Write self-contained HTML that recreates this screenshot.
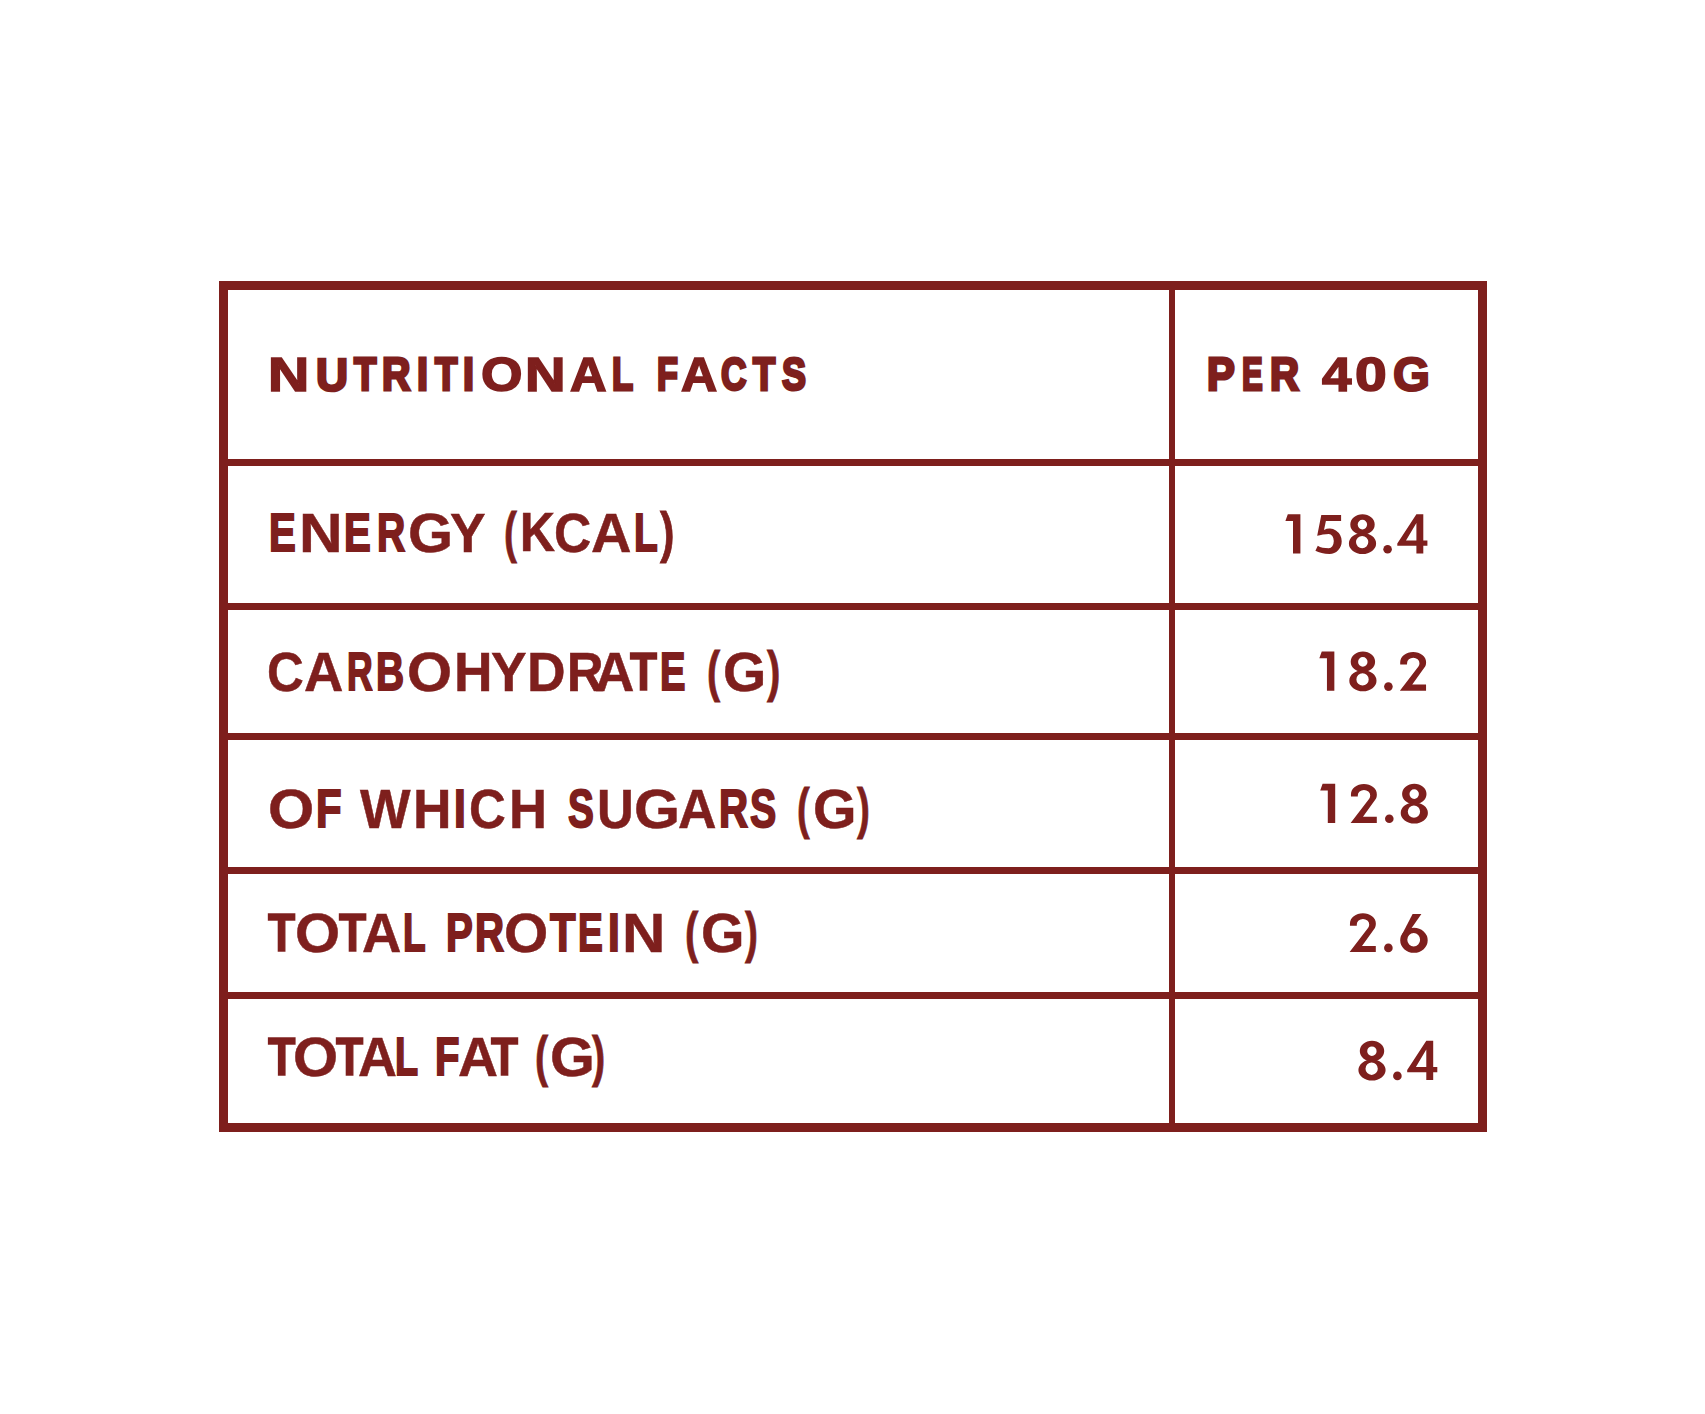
<!DOCTYPE html>
<html><head><meta charset="utf-8"><title>Nutritional Facts</title><style>
*{margin:0;padding:0;box-sizing:border-box}
html,body{width:1705px;height:1414px;background:#fff;overflow:hidden}
body{position:relative;font-family:"Liberation Sans",sans-serif;font-weight:bold;color:#7e1f1d}
.l{position:absolute;background:#7e1f1d}
.t{position:absolute;white-space:nowrap;line-height:1;transform-origin:0 0;-webkit-text-stroke-color:#7e1f1d}
.n{font-weight:normal}
</style></head><body>
<div class="l" style="left:219px;top:281px;width:1268px;height:9px"></div>
<div class="l" style="left:219px;top:1123px;width:1268px;height:9px"></div>
<div class="l" style="left:219px;top:281px;width:9px;height:851px"></div>
<div class="l" style="left:1478px;top:281px;width:9px;height:851px"></div>
<div class="l" style="left:1169px;top:281px;width:6px;height:851px"></div>
<div class="l" style="left:219px;top:459px;width:1268px;height:7px"></div>
<div class="l" style="left:219px;top:603px;width:1268px;height:7px"></div>
<div class="l" style="left:219px;top:733px;width:1268px;height:7px"></div>
<div class="l" style="left:219px;top:867px;width:1268px;height:7px"></div>
<div class="l" style="left:219px;top:992px;width:1268px;height:7px"></div>
<!-- header -->
<div class="t" style="left:268.16px;top:350.15px;font-size:48.582px;transform:scaleX(1.1744);-webkit-text-stroke-width:1.6px">N</div>
<div class="t" style="left:315.92px;top:350.94px;font-size:47.005px;transform:scaleX(0.9458);-webkit-text-stroke-width:2.68px">U</div>
<div class="t" style="left:353.82px;top:351.17px;font-size:46.545px;transform:scaleX(0.7879);-webkit-text-stroke-width:3.0px">T</div>
<div class="t" style="left:381.55px;top:351.17px;font-size:46.545px;transform:scaleX(0.8467);-webkit-text-stroke-width:3.0px">R</div>
<div class="t" style="left:417.29px;top:351.17px;font-size:46.545px;transform:scaleX(0.854);-webkit-text-stroke-width:3.0px">I</div>
<div class="t" style="left:434.82px;top:351.17px;font-size:46.545px;transform:scaleX(0.7879);-webkit-text-stroke-width:3.0px">T</div>
<div class="t" style="left:462.87px;top:351.17px;font-size:46.545px;transform:scaleX(0.854);-webkit-text-stroke-width:3.0px">I</div>
<div class="t" style="left:480.54px;top:350.15px;font-size:48.582px;transform:scaleX(1.0973);-webkit-text-stroke-width:1.6px">O</div>
<div class="t" style="left:525.1px;top:350.15px;font-size:48.582px;transform:scaleX(1.155);-webkit-text-stroke-width:1.6px">N</div>
<div class="t" style="left:569.88px;top:350.15px;font-size:48.582px;transform:scaleX(1.0431);-webkit-text-stroke-width:1.6px">A</div>
<div class="t" style="left:611.78px;top:351.17px;font-size:46.545px;transform:scaleX(0.7448);-webkit-text-stroke-width:3.0px">L</div>
<div class="t" style="left:656.56px;top:351.17px;font-size:46.545px;transform:scaleX(0.7364);-webkit-text-stroke-width:3.0px">F</div>
<div class="t" style="left:680.57px;top:350.15px;font-size:48.582px;transform:scaleX(1.0309);-webkit-text-stroke-width:1.6px">A</div>
<div class="t" style="left:721.14px;top:351.17px;font-size:46.545px;transform:scaleX(0.7592);-webkit-text-stroke-width:3.0px">C</div>
<div class="t" style="left:753.19px;top:351.17px;font-size:46.545px;transform:scaleX(0.7819);-webkit-text-stroke-width:3.0px">T</div>
<div class="t" style="left:781.5px;top:351.17px;font-size:46.545px;transform:scaleX(0.7729);-webkit-text-stroke-width:3.0px">S</div>
<div class="t" style="left:1207.32px;top:351.17px;font-size:46.545px;transform:scaleX(0.8947);-webkit-text-stroke-width:3.0px">P</div>
<div class="t" style="left:1241.84px;top:351.17px;font-size:46.545px;transform:scaleX(0.6681);-webkit-text-stroke-width:3.0px">E</div>
<div class="t" style="left:1269.69px;top:351.17px;font-size:46.545px;transform:scaleX(0.8642);-webkit-text-stroke-width:3.0px">R</div>
<div class="t" style="left:1321.66px;top:350.15px;font-size:48.582px;transform:scaleX(1.0879);-webkit-text-stroke-width:1.6px">4</div>
<div class="t" style="left:1355.4px;top:350.15px;font-size:48.582px;transform:scaleX(1.1752);-webkit-text-stroke-width:1.6px">0</div>
<div class="t" style="left:1392.56px;top:350.52px;font-size:47.841px;transform:scaleX(0.9944);-webkit-text-stroke-width:2.11px">G</div>
<!-- rows -->
<div class="t" style="left:269.33px;top:506.08px;font-size:53.818px;transform:scaleX(0.7474);-webkit-text-stroke-width:2.0px">E</div>
<div class="t" style="left:299.04px;top:504.99px;font-size:56.0px;transform:scaleX(1.0783);-webkit-text-stroke-width:0.5px">N</div>
<div class="t" style="left:344.45px;top:506.08px;font-size:53.818px;transform:scaleX(0.7468);-webkit-text-stroke-width:2.0px">E</div>
<div class="t" style="left:377.04px;top:506.08px;font-size:53.818px;transform:scaleX(0.7272);-webkit-text-stroke-width:2.0px">R</div>
<div class="t" style="left:407.95px;top:504.99px;font-size:56.0px;transform:scaleX(1.0342);-webkit-text-stroke-width:0.5px">G</div>
<div class="t" style="left:449.57px;top:504.99px;font-size:56.0px;transform:scaleX(0.9525);-webkit-text-stroke-width:0.5px">Y</div>
<div class="t" style="left:503.53px;top:506.01px;font-size:54.584px;transform:scaleX(0.7106);-webkit-text-stroke-width:0.8px">(</div>
<div class="t" style="left:519.91px;top:505.16px;font-size:55.656px;transform:scaleX(0.8683);-webkit-text-stroke-width:0.74px">K</div>
<div class="t" style="left:554.16px;top:504.99px;font-size:56.0px;transform:scaleX(0.92);-webkit-text-stroke-width:0.5px">C</div>
<div class="t" style="left:591.47px;top:504.99px;font-size:56.0px;transform:scaleX(0.9998);-webkit-text-stroke-width:0.5px">A</div>
<div class="t" style="left:633.92px;top:506.08px;font-size:53.818px;transform:scaleX(0.724);-webkit-text-stroke-width:2.0px">L</div>
<div class="t" style="left:659.78px;top:506.01px;font-size:54.584px;transform:scaleX(0.7971);-webkit-text-stroke-width:0.8px">)</div>
<div class="t" style="left:267.48px;top:644.33px;font-size:56.0px;transform:scaleX(0.9093);-webkit-text-stroke-width:0.5px">C</div>
<div class="t" style="left:304.29px;top:644.33px;font-size:56.0px;transform:scaleX(0.9735);-webkit-text-stroke-width:0.5px">A</div>
<div class="t" style="left:347.28px;top:645.42px;font-size:53.818px;transform:scaleX(0.6609);-webkit-text-stroke-width:2.0px">R</div>
<div class="t" style="left:376.18px;top:645.42px;font-size:53.818px;transform:scaleX(0.724);-webkit-text-stroke-width:2.0px">B</div>
<div class="t" style="left:406.53px;top:644.33px;font-size:56.0px;transform:scaleX(1.0352);-webkit-text-stroke-width:0.5px">O</div>
<div class="t" style="left:453.6px;top:644.33px;font-size:56.0px;transform:scaleX(0.9524);-webkit-text-stroke-width:0.5px">H</div>
<div class="t" style="left:490.52px;top:644.33px;font-size:56.0px;transform:scaleX(0.9525);-webkit-text-stroke-width:0.5px">Y</div>
<div class="t" style="left:526.73px;top:644.33px;font-size:56.0px;transform:scaleX(0.9543);-webkit-text-stroke-width:0.5px">D</div>
<div class="t" style="left:566.7px;top:644.5px;font-size:55.657px;transform:scaleX(0.9049);-webkit-text-stroke-width:0.74px">R</div>
<div class="t" style="left:595.25px;top:644.33px;font-size:56.0px;transform:scaleX(0.9732);-webkit-text-stroke-width:0.5px">A</div>
<div class="t" style="left:630.03px;top:645.11px;font-size:54.451px;transform:scaleX(0.8134);-webkit-text-stroke-width:1.56px">T</div>
<div class="t" style="left:660.02px;top:645.42px;font-size:53.818px;transform:scaleX(0.7098);-webkit-text-stroke-width:2.0px">E</div>
<div class="t" style="left:707.19px;top:645.35px;font-size:54.584px;transform:scaleX(0.7233);-webkit-text-stroke-width:0.8px">(</div>
<div class="t" style="left:723.16px;top:644.33px;font-size:56.0px;transform:scaleX(0.9925);-webkit-text-stroke-width:0.5px">G</div>
<div class="t" style="left:767.19px;top:645.35px;font-size:54.584px;transform:scaleX(0.7354);-webkit-text-stroke-width:0.8px">)</div>
<div class="t" style="left:268.05px;top:780.55px;font-size:56.0px;transform:scaleX(1.0605);-webkit-text-stroke-width:0.5px">O</div>
<div class="t" style="left:316.17px;top:781.64px;font-size:53.818px;transform:scaleX(0.7783);-webkit-text-stroke-width:2.0px">F</div>
<div class="t" style="left:360.15px;top:780.55px;font-size:56.0px;transform:scaleX(0.9561);-webkit-text-stroke-width:0.5px">W</div>
<div class="t" style="left:412.92px;top:780.55px;font-size:56.0px;transform:scaleX(0.9525);-webkit-text-stroke-width:0.5px">H</div>
<div class="t" style="left:453.83px;top:781.64px;font-size:53.818px;transform:scaleX(0.7911);-webkit-text-stroke-width:2.0px">I</div>
<div class="t" style="left:469.22px;top:780.55px;font-size:56.0px;transform:scaleX(0.9093);-webkit-text-stroke-width:0.5px">C</div>
<div class="t" style="left:509.4px;top:780.55px;font-size:56.0px;transform:scaleX(0.9405);-webkit-text-stroke-width:0.5px">H</div>
<div class="t" style="left:567.92px;top:781.64px;font-size:53.818px;transform:scaleX(0.7203);-webkit-text-stroke-width:2.0px">S</div>
<div class="t" style="left:597.22px;top:780.55px;font-size:56.0px;transform:scaleX(0.9091);-webkit-text-stroke-width:0.5px">U</div>
<div class="t" style="left:634.49px;top:780.55px;font-size:56.0px;transform:scaleX(1.0552);-webkit-text-stroke-width:0.5px">G</div>
<div class="t" style="left:677.71px;top:780.55px;font-size:56.0px;transform:scaleX(0.9525);-webkit-text-stroke-width:0.5px">A</div>
<div class="t" style="left:718.87px;top:781.64px;font-size:53.818px;transform:scaleX(0.7492);-webkit-text-stroke-width:2.0px">R</div>
<div class="t" style="left:749.5px;top:781.64px;font-size:53.818px;transform:scaleX(0.7319);-webkit-text-stroke-width:2.0px">S</div>
<div class="t" style="left:797.36px;top:781.57px;font-size:54.584px;transform:scaleX(0.6982);-webkit-text-stroke-width:0.8px">(</div>
<div class="t" style="left:812.93px;top:780.55px;font-size:56.0px;transform:scaleX(0.9976);-webkit-text-stroke-width:0.5px">G</div>
<div class="t" style="left:857.18px;top:781.57px;font-size:54.584px;transform:scaleX(0.7091);-webkit-text-stroke-width:0.8px">)</div>
<div class="t" style="left:267.86px;top:905.63px;font-size:54.317px;transform:scaleX(0.8196);-webkit-text-stroke-width:1.66px">T</div>
<div class="t" style="left:294.5px;top:904.79px;font-size:56.0px;transform:scaleX(1.0353);-webkit-text-stroke-width:0.5px">O</div>
<div class="t" style="left:339.07px;top:905.63px;font-size:54.317px;transform:scaleX(0.8196);-webkit-text-stroke-width:1.66px">T</div>
<div class="t" style="left:361.5px;top:904.79px;font-size:56.0px;transform:scaleX(0.9735);-webkit-text-stroke-width:0.5px">A</div>
<div class="t" style="left:402.63px;top:905.88px;font-size:53.818px;transform:scaleX(0.6897);-webkit-text-stroke-width:2.0px">L</div>
<div class="t" style="left:445.61px;top:905.88px;font-size:53.818px;transform:scaleX(0.7471);-webkit-text-stroke-width:2.0px">P</div>
<div class="t" style="left:474.61px;top:905.88px;font-size:53.818px;transform:scaleX(0.7492);-webkit-text-stroke-width:2.0px">R</div>
<div class="t" style="left:504.33px;top:904.79px;font-size:56.0px;transform:scaleX(1.0151);-webkit-text-stroke-width:0.5px">O</div>
<div class="t" style="left:549.55px;top:905.84px;font-size:53.903px;transform:scaleX(0.7768);-webkit-text-stroke-width:1.94px">T</div>
<div class="t" style="left:578.38px;top:905.88px;font-size:53.818px;transform:scaleX(0.6913);-webkit-text-stroke-width:2.0px">E</div>
<div class="t" style="left:607.99px;top:905.88px;font-size:53.818px;transform:scaleX(0.7911);-webkit-text-stroke-width:2.0px">I</div>
<div class="t" style="left:622.07px;top:904.79px;font-size:56.0px;transform:scaleX(1.0722);-webkit-text-stroke-width:0.5px">N</div>
<div class="t" style="left:685.15px;top:905.81px;font-size:54.584px;transform:scaleX(0.7355);-webkit-text-stroke-width:0.8px">(</div>
<div class="t" style="left:701.35px;top:904.79px;font-size:56.0px;transform:scaleX(0.9976);-webkit-text-stroke-width:0.5px">G</div>
<div class="t" style="left:745.4px;top:905.81px;font-size:54.584px;transform:scaleX(0.7107);-webkit-text-stroke-width:0.8px">)</div>
<div class="t" style="left:267.59px;top:1029.65px;font-size:54.517px;transform:scaleX(0.8256);-webkit-text-stroke-width:1.52px">T</div>
<div class="t" style="left:293.08px;top:1028.91px;font-size:56.0px;transform:scaleX(1.0353);-webkit-text-stroke-width:0.5px">O</div>
<div class="t" style="left:336.23px;top:1029.75px;font-size:54.317px;transform:scaleX(0.8196);-webkit-text-stroke-width:1.66px">T</div>
<div class="t" style="left:357.62px;top:1028.91px;font-size:56.0px;transform:scaleX(0.9627);-webkit-text-stroke-width:0.5px">A</div>
<div class="t" style="left:394.95px;top:1030.0px;font-size:53.818px;transform:scaleX(0.7038);-webkit-text-stroke-width:2.0px">L</div>
<div class="t" style="left:435.43px;top:1030.0px;font-size:53.818px;transform:scaleX(0.7444);-webkit-text-stroke-width:2.0px">F</div>
<div class="t" style="left:457.61px;top:1028.91px;font-size:56.0px;transform:scaleX(0.9892);-webkit-text-stroke-width:0.5px">A</div>
<div class="t" style="left:491.4px;top:1029.69px;font-size:54.451px;transform:scaleX(0.8134);-webkit-text-stroke-width:1.56px">T</div>
<div class="t" style="left:535.03px;top:1029.93px;font-size:54.584px;transform:scaleX(0.7233);-webkit-text-stroke-width:0.8px">(</div>
<div class="t" style="left:549.92px;top:1028.91px;font-size:56.0px;transform:scaleX(1.0287);-webkit-text-stroke-width:0.5px">G</div>
<div class="t" style="left:592.03px;top:1029.93px;font-size:54.584px;transform:scaleX(0.7233);-webkit-text-stroke-width:0.8px">)</div>
<svg style="position:absolute;left:0;top:0" width="1705" height="1414" viewBox="0 0 1705 1414" fill="#7e1f1d" fill-rule="evenodd"><path transform="translate(1285.4,553.4)" d="M2.40,-39.10L15.00,-39.10L15.00,0.00L7.60,0.00L7.60,-32.50L0.00,-32.50Z"/><path transform="translate(1315.4,553.4)" d="M5.9,-38.4L25.7,-38.4L25.7,-32.5L10.5,-32.5L8.6,-23.5A12.2,12.7 0 0 1 26.3,-12.2A12.2,12.7 0 0 1 14.1,0.5C8.5,0.5 3.5,-0.8 0,-2.7L2.4,-7.6C5,-5.8 9,-5.1 13.4,-5.1A5.0,7.2 0 0 0 13.4,-19.5C10,-19.5 5,-18.6 1.8,-17.7Z"/><path transform="translate(1348.9,553.4)" d="M1.40,-28.90A12.2,10.3 0 1 1 25.80,-28.90A12.2,10.3 0 1 1 1.40,-28.90ZM8.80,-28.80A4.7,4.8 0 1 0 18.20,-28.80A4.7,4.8 0 1 0 8.80,-28.80Z"/><path transform="translate(1348.9,553.4)" d="M0.00,-9.90A13.6,10.5 0 1 1 27.20,-9.90A13.6,10.5 0 1 1 0.00,-9.90ZM7.10,-11.30A6.15,6.2 0 1 0 19.40,-11.30A6.15,6.2 0 1 0 7.10,-11.30Z"/><circle cx="1387.6" cy="549.3" r="4.3"/><path transform="translate(1397.3,553.4)" d="M19.10,-39.20L0.00,-10.00L0.00,-7.70L19.10,-7.70L19.10,0.00L26.00,0.00L26.00,-7.70L30.10,-7.70L30.10,-13.00L26.00,-13.00L26.00,-39.20ZM19.10,-30.50L19.10,-13.00L8.70,-13.00Z"/><path transform="translate(1319.35,690.7)" d="M2.40,-39.10L15.00,-39.10L15.00,0.00L7.60,0.00L7.60,-32.50L0.00,-32.50Z"/><path transform="translate(1349.3,690.7)" d="M1.40,-28.90A12.2,10.3 0 1 1 25.80,-28.90A12.2,10.3 0 1 1 1.40,-28.90ZM8.80,-28.80A4.7,4.8 0 1 0 18.20,-28.80A4.7,4.8 0 1 0 8.80,-28.80Z"/><path transform="translate(1349.3,690.7)" d="M0.00,-9.90A13.6,10.5 0 1 1 27.20,-9.90A13.6,10.5 0 1 1 0.00,-9.90ZM7.10,-11.30A6.15,6.2 0 1 0 19.40,-11.30A6.15,6.2 0 1 0 7.10,-11.30Z"/><circle cx="1388.4" cy="686.6" r="4.3"/><path transform="translate(1399.85,690.7)" d="M0.35,-26.3L0.35,-28.5A12.95,10.3 0 0 1 26.25,-28.5C26.25,-26.6 25.9,-25.2 25.3,-24.1L12.4,-6.1L26.2,-6.1L26.2,0L0,0L18.6,-24.2C19.3,-25.2 19.6,-26.3 19.6,-27.5A6.2,5.5 0 0 0 7.2,-27.5L7.2,-26.3Z"/><path transform="translate(1320.2,822.9)" d="M2.40,-39.10L15.00,-39.10L15.00,0.00L7.60,0.00L7.60,-32.50L0.00,-32.50Z"/><path transform="translate(1350.6,822.9)" d="M0.35,-26.3L0.35,-28.5A12.95,10.3 0 0 1 26.25,-28.5C26.25,-26.6 25.9,-25.2 25.3,-24.1L12.4,-6.1L26.2,-6.1L26.2,0L0,0L18.6,-24.2C19.3,-25.2 19.6,-26.3 19.6,-27.5A6.2,5.5 0 0 0 7.2,-27.5L7.2,-26.3Z"/><circle cx="1389.3" cy="818.8" r="4.3"/><path transform="translate(1400.7,822.9)" d="M1.40,-28.90A12.2,10.3 0 1 1 25.80,-28.90A12.2,10.3 0 1 1 1.40,-28.90ZM8.80,-28.80A4.7,4.8 0 1 0 18.20,-28.80A4.7,4.8 0 1 0 8.80,-28.80Z"/><path transform="translate(1400.7,822.9)" d="M0.00,-9.90A13.6,10.5 0 1 1 27.20,-9.90A13.6,10.5 0 1 1 0.00,-9.90ZM7.10,-11.30A6.15,6.2 0 1 0 19.40,-11.30A6.15,6.2 0 1 0 7.10,-11.30Z"/><path transform="translate(1349.6,952.0)" d="M0.35,-26.3L0.35,-28.5A12.95,10.3 0 0 1 26.25,-28.5C26.25,-26.6 25.9,-25.2 25.3,-24.1L12.4,-6.1L26.2,-6.1L26.2,0L0,0L18.6,-24.2C19.3,-25.2 19.6,-26.3 19.6,-27.5A6.2,5.5 0 0 0 7.2,-27.5L7.2,-26.3Z"/><circle cx="1388.4" cy="947.9" r="4.3"/><path transform="translate(1400.2,952.0)" d="M0.00,-11.70A13.75,12.5 0 1 1 27.50,-11.70A13.75,12.5 0 1 1 0.00,-11.70ZM7.10,-12.30A6.4,6.7 0 1 0 19.90,-12.30A6.4,6.7 0 1 0 7.10,-12.30Z"/><path transform="translate(1400.2,952.0)" d="M12.40,-38.10L21.20,-38.10L9.00,-20.50L1.40,-16.70Z"/><path transform="translate(1358.4,1080.0)" d="M1.40,-28.90A12.2,10.3 0 1 1 25.80,-28.90A12.2,10.3 0 1 1 1.40,-28.90ZM8.80,-28.80A4.7,4.8 0 1 0 18.20,-28.80A4.7,4.8 0 1 0 8.80,-28.80Z"/><path transform="translate(1358.4,1080.0)" d="M0.00,-9.90A13.6,10.5 0 1 1 27.20,-9.90A13.6,10.5 0 1 1 0.00,-9.90ZM7.10,-11.30A6.15,6.2 0 1 0 19.40,-11.30A6.15,6.2 0 1 0 7.10,-11.30Z"/><circle cx="1397.4" cy="1075.9" r="4.3"/><path transform="translate(1407.2,1080.0)" d="M19.10,-39.20L0.00,-10.00L0.00,-7.70L19.10,-7.70L19.10,0.00L26.00,0.00L26.00,-7.70L30.10,-7.70L30.10,-13.00L26.00,-13.00L26.00,-39.20ZM19.10,-30.50L19.10,-13.00L8.70,-13.00Z"/></svg>
</body></html>
